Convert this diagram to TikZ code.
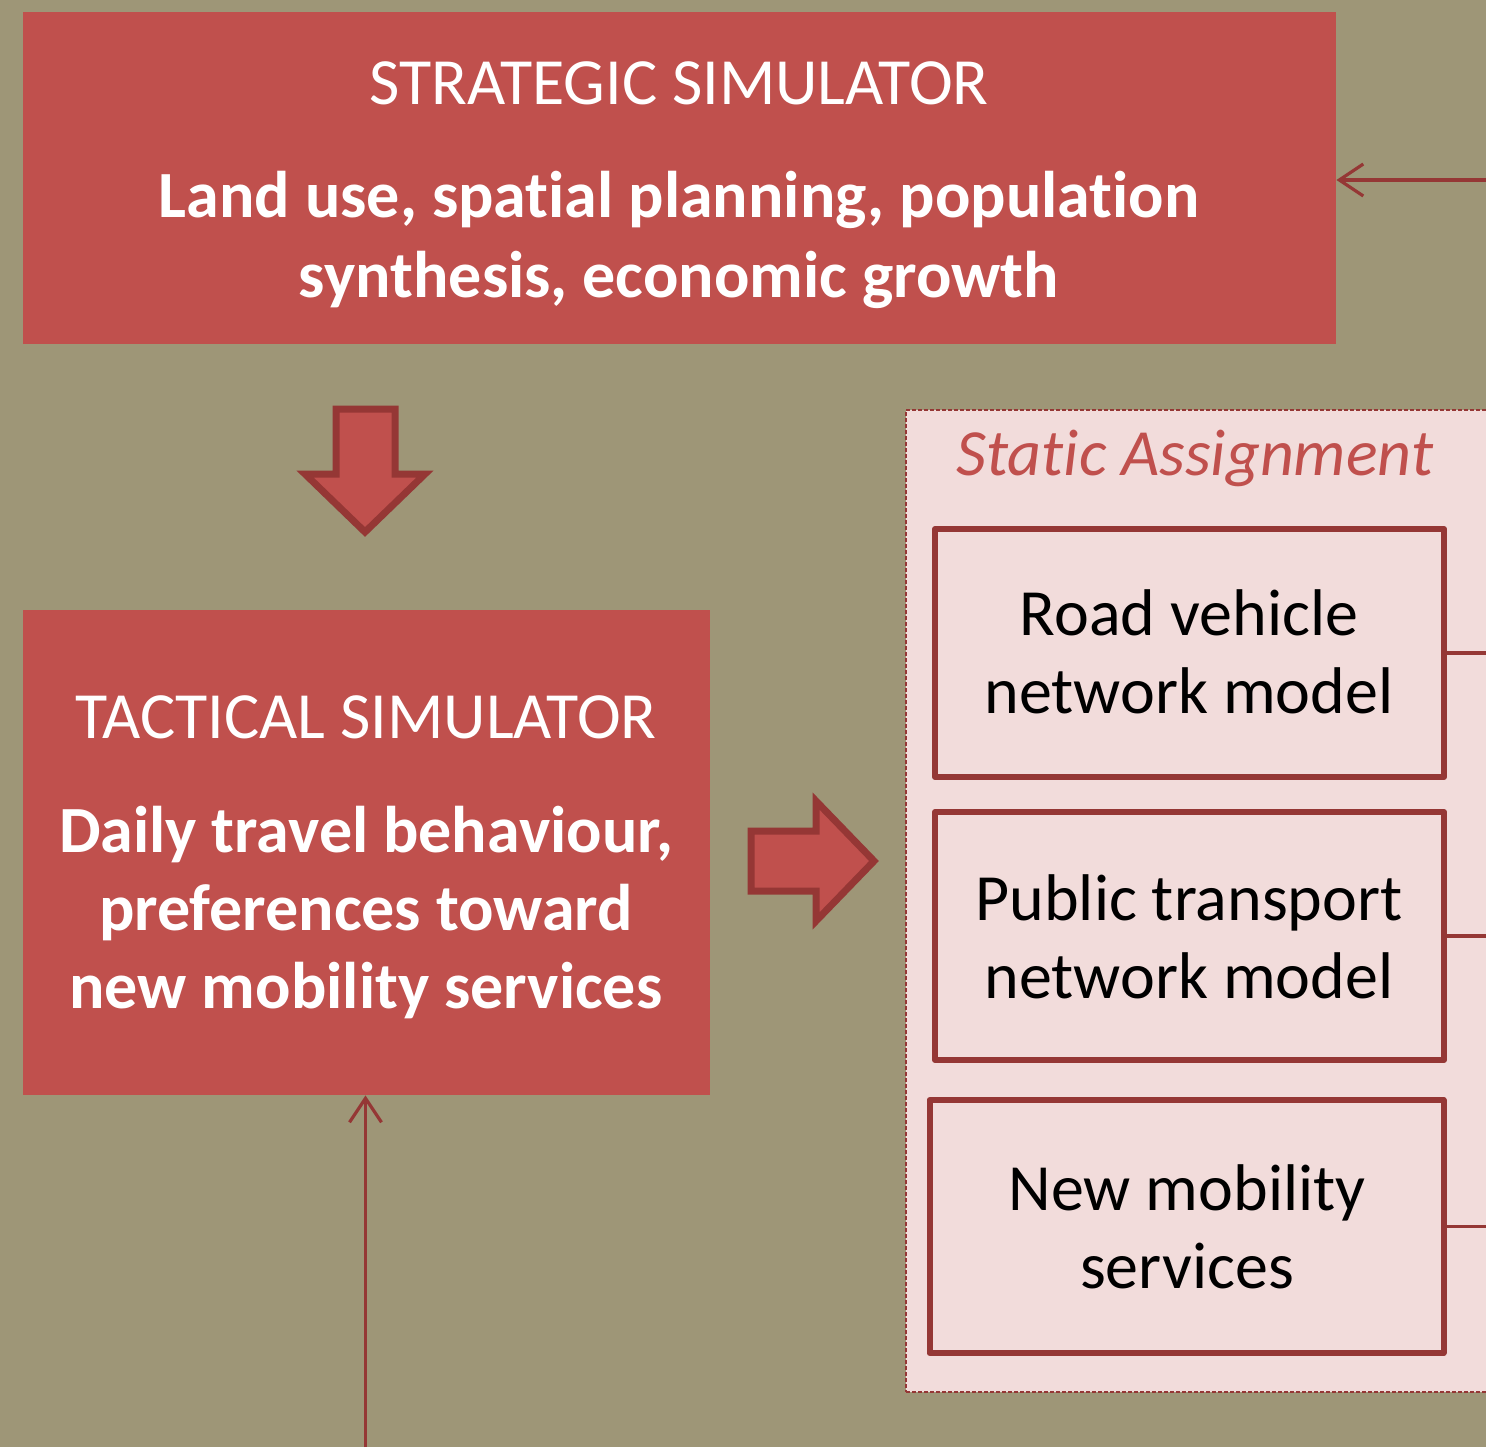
\documentclass[tikz,border=0pt]{standalone}
\usepackage{fontspec}
\setmainfont[Ligatures=NoCommon]{Carlito}
\usetikzlibrary{arrows.meta}
\definecolor{bgc}{HTML}{9E9677}
\definecolor{redc}{HTML}{C0504D}
\definecolor{darkc}{HTML}{953735}
\definecolor{pinkc}{HTML}{F2DCDB}
\begin{document}
\begin{tikzpicture}[x=0.5pt,y=-0.5pt,
  simbox/.style={fill=redc, draw=none, inner sep=0pt},
  modbox/.style={fill=pinkc, draw=darkc, line width=3pt, line join=round, inner sep=0pt, minimum width=254.5pt, minimum height=124pt},
  zone/.style={fill=pinkc, draw=darkc, line width=0.9pt, dash pattern=on 2pt off 1pt, inner sep=0pt},
  wtitle/.style={text=white, font=\fontsize{33}{39.5}\selectfont, anchor=base, inner sep=0pt},
  wbold/.style={text=white, font=\fontsize{33}{39.5}\selectfont\bfseries, anchor=base, inner sep=0pt},
  btext/.style={text=black, font=\fontsize{33}{39.5}\selectfont, anchor=base, inner sep=0pt},
  ztitle/.style={text=redc, font=\fontsize{33}{39}\selectfont\itshape, anchor=base, inner sep=0pt},
  blockarrow/.style={fill=redc, draw=darkc, line width=3.5pt, line join=miter},
  conn/.style={draw=darkc, line width=1.6pt},
  feed/.style={conn, -{Straight Barb[length=12pt,width=16pt,line width=1.6pt]}}
]
\useasboundingbox (0,0) rectangle (1486,1447);
\fill[bgc] (0,0) rectangle (1486,1447);
\clip (0,0) rectangle (1486,1447);

% strategic simulator
\node[simbox, minimum width=656.5pt, minimum height=166pt] (strategic) at (679.5,178) {};
\node[wtitle] (st1) at (679,104) {STRATEGIC SIMULATOR};
\node[wbold] (st2) at (679,217) {Land use, spatial planning, population};
\node[wbold] (st3) at (679,297) {synthesis, economic growth};

% tactical simulator
\node[simbox, minimum width=343.5pt, minimum height=242.5pt] (tactical) at (366.5,852.5) {};
\node[wtitle] (tt1) at (366,738) {TACTICAL SIMULATOR};
\node[wbold] (tt2) at (366,852) {Daily travel behaviour,};
\node[wbold] (tt3) at (366,930) {preferences toward};
\node[wbold] (tt4) at (366,1008) {new mobility services};

% static assignment zone
\node[zone, minimum width=300pt, minimum height=491pt] (zone) at (1206,901) {};
\node[ztitle] (zt) at (1195,475) {Static Assignment};

\node[modbox] (road) at (1189.5,653) {};
\node[btext] (r1) at (1189,635) {Road vehicle};
\node[btext] (r2) at (1189,713) {network model};

\node[modbox] (pt) at (1189.5,936) {};
\node[btext] (p1) at (1189,920) {Public transport};
\node[btext] (p2) at (1189,998) {network model};

\node[modbox, minimum width=257pt, minimum height=126.5pt] (nms) at (1186.5,1226.5) {};
\node[btext] (n1) at (1187,1210) {New mobility};
\node[btext] (n2) at (1187,1288) {services};

% block arrows
\draw[blockarrow] (336,409) -- (395,409) -- (395,474) -- (425,474) -- (365,532) -- (305,474) -- (336,474) -- cycle;
\draw[blockarrow] (751,831) -- (816,831) -- (816,801) -- (874,861) -- (816,921) -- (816,891) -- (751,891) -- cycle;

% feedback connectors
\coordinate (inR) at (1486,180);
\coordinate (inB) at (365.5,1447);
\coordinate (outR) at (1486,653);
\coordinate (outP) at (1486,936);
\coordinate (outN) at (1486,1226.5);
\draw[feed] (inR) -- (strategic.east |- inR);
\draw[feed] (inB) -- (inB |- tactical.south);
\draw[conn] (road.east) -- (outR);
\draw[conn] (pt.east) -- (outP);
\draw[conn] (nms.east) -- (outN);
\end{tikzpicture}
\end{document}
